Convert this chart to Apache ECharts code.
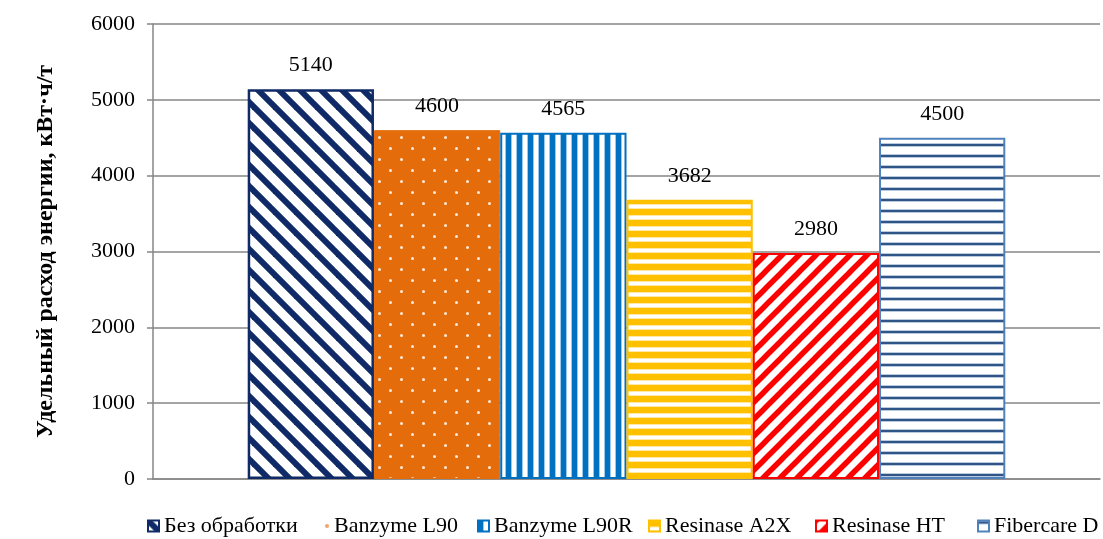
<!DOCTYPE html>
<html>
<head>
<meta charset="utf-8">
<script src="https://cdn.jsdelivr.net/npm/echarts@6/dist/echarts.min.js"></script>
<style>
html,body{margin:0;padding:0;background:#fff;}
#chart{width:1103px;height:539px;}
</style>
</head>
<body>
<div id="chart"></div>
<script>
var seriesNames = ['Без обработки', 'Banzyme L90', 'Banzyme L90R', 'Resinase A2X', 'Resinase HT', 'Fibercare D'];
var seriesValues = [5140, 4600, 4565, 3682, 2980, 4500];
var yTicks = [0, 1000, 2000, 3000, 4000, 5000, 6000];
var yAxisTitle = 'Удельный расход энергии, кВт·ч/т';

function tile(w, h, draw) {
  var c = document.createElement('canvas');
  c.width = w; c.height = h;
  var ctx = c.getContext('2d');
  draw(ctx, w, h);
  return c;
}
function diag(color, p, lw, dir) {
  return tile(p, p, function (ctx, w, h) {
    ctx.fillStyle = '#fff'; ctx.fillRect(0, 0, w, h);
    ctx.strokeStyle = color; ctx.lineWidth = lw;
    for (var k = -2; k <= 2; k++) {
      ctx.beginPath();
      if (dir === 'back') { ctx.moveTo(k * p - p, -p); ctx.lineTo(k * p + 2 * p, 2 * p); }
      else { ctx.moveTo(k * p - p, 2 * p); ctx.lineTo(k * p + 2 * p, -p); }
      ctx.stroke();
    }
  });
}
var patterns = [
  diag('#0f2a66', 21, 6, 'back'),
  tile(22, 22, function (ctx, w, h) {
    ctx.fillStyle = '#e46c0a'; ctx.fillRect(0, 0, w, h);
    ctx.fillStyle = '#fde9d9';
    ctx.beginPath(); ctx.arc(5.5, 5.5, 1.5, 0, Math.PI * 2); ctx.fill();
    ctx.beginPath(); ctx.arc(16.5, 16.5, 1.5, 0, Math.PI * 2); ctx.fill();
  }),
  tile(11, 4, function (ctx, w, h) {
    ctx.fillStyle = '#9cc8ea'; ctx.fillRect(0, 0, w, h);
    ctx.fillStyle = '#ffffff'; ctx.fillRect(6, 0, 4, h);
    ctx.fillStyle = '#0070c0'; ctx.fillRect(0, 0, 5, h);
  }),
  tile(4, 11, function (ctx, w, h) {
    ctx.fillStyle = '#ffc000'; ctx.fillRect(0, 0, w, h);
    ctx.fillStyle = '#ffe9a8'; ctx.fillRect(0, 6, w, 5);
    ctx.fillStyle = '#ffffff'; ctx.fillRect(0, 7, w, 3);
  }),
  diag('#ff0000', 17, 5.5, 'fwd'),
  tile(4, 11, function (ctx, w, h) {
    ctx.fillStyle = '#ffffff'; ctx.fillRect(0, 0, w, h);
    ctx.fillStyle = '#b9c9de'; ctx.fillRect(0, 0, w, 4);
    ctx.fillStyle = '#2f5486'; ctx.fillRect(0, 1, w, 2);
  })
];
var borders = ['#0f2a66', '#e46c0a', '#0070c0', '#ffc000', '#ff0000', '#4f81bd'];
var borderWidths = [2.5, 1, 2, 2, 2, 2];
var legendLefts = [142, 320, 472, 643, 810, 972];

var FONT = 'Liberation Serif';
var series = seriesNames.map(function (n, i) {
  return {
    name: n,
    type: 'bar',
    barGap: '0%',
    barCategoryGap: '20%',
    data: [seriesValues[i]],
    itemStyle: {
      color: { image: patterns[i], repeat: 'repeat' },
      borderColor: borders[i],
      borderWidth: borderWidths[i]
    },
    label: {
      show: true, position: 'top', distance: 13,
      color: '#000', fontFamily: FONT, fontSize: 22
    }
  };
});

var legends = seriesNames.map(function (n, i) {
  var dot = i === 1;
  return {
    left: legendLefts[i], top: 510,
    itemWidth: dot ? 4 : 11, itemHeight: dot ? 4 : 11, itemGap: 0,
    textStyle: { fontFamily: FONT, fontSize: 22, color: '#000' },
    data: [dot ? { name: n, icon: 'circle', itemStyle: { color: '#f4a46a', borderWidth: 0 } } : { name: n, icon: 'rect' }]
  };
});

var chart = echarts.init(document.getElementById('chart'));
chart.setOption({
  animation: false,
  backgroundColor: '#fff',
  grid: { left: 153, right: 3, top: 24, bottom: 60, containLabel: false },
  legend: legends,
  xAxis: {
    type: 'category',
    data: [''],
    axisLine: { show: true, lineStyle: { color: '#868686', width: 1.5 } },
    axisTick: { show: false },
    axisLabel: { show: false }
  },
  yAxis: {
    type: 'value',
    min: 0, max: 6000, interval: 1000,
    name: yAxisTitle,
    nameLocation: 'middle',
    nameGap: 95,
    nameRotate: 90,
    nameTextStyle: { fontFamily: FONT, fontSize: 24, fontWeight: 'bold', color: '#000' },
    axisLine: { show: true, lineStyle: { color: '#868686', width: 1.5 } },
    axisTick: { show: true, length: 6, lineStyle: { color: '#868686', width: 1.5 } },
    axisLabel: {
      margin: 18, color: '#000', fontFamily: FONT, fontSize: 22,
      formatter: function (v) { return yTicks.indexOf(v) >= 0 ? String(v) : ''; }
    },
    splitLine: { show: true, lineStyle: { color: '#868686', width: 1.5 } }
  },
  series: series
});
</script>
</body>
</html>
